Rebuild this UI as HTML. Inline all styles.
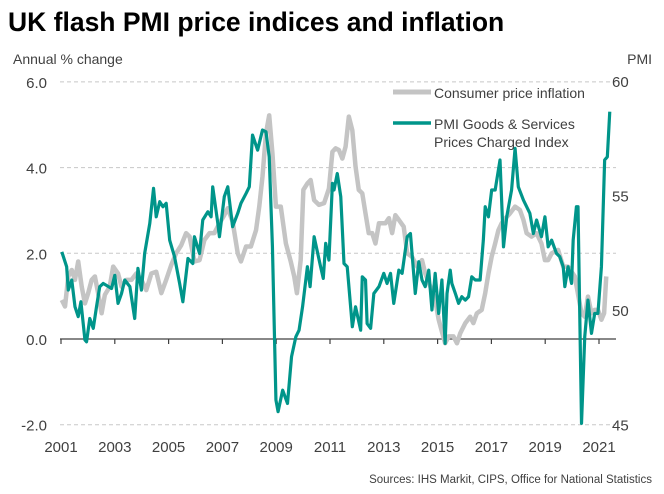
<!DOCTYPE html>
<html><head><meta charset="utf-8"><style>
body{margin:0;background:#fff;}
svg{display:block;font-family:"Liberation Sans",Arial,sans-serif;}
</style></head><body>
<svg id="c" width="664" height="494">
<text x="8" y="31" font-size="26.5" font-weight="bold" fill="#000">UK flash PMI price indices and inflation</text>
<text x="13" y="64" font-size="14" fill="#404040">Annual % change</text>
<text x="652" y="64" font-size="14" fill="#404040" text-anchor="end">PMI</text>
<text x="652" y="483" font-size="11.5" fill="#404040" text-anchor="end">Sources: IHS Markit, CIPS, Office for National Statistics</text>
<g id="grid"></g><g id="axes"></g><g id="series"></g>
<g>
<line x1="393" y1="92" x2="431" y2="92" stroke="#c4c4c4" stroke-width="5"/>
<text x="434" y="98" font-size="14" fill="#404040">Consumer price inflation</text>
<line x1="393" y1="123" x2="431" y2="123" stroke="#00958a" stroke-width="3.5"/>
<text x="434" y="129" font-size="14" fill="#404040">PMI Goods &amp; Services</text>
<text x="434" y="147" font-size="14" fill="#404040">Prices Charged Index</text>
</g>
</svg>
<script>
const leftTicks=[6,4,2,0,-2];
const rightTicks=[60,55,50,45];
const yearTicks=[2001,2003,2005,2007,2009,2011,2013,2015,2017,2019,2021];
const cpiDates=[2001.03,2001.15,2001.27,2001.40,2001.52,2001.64,2001.77,2001.89,2002.01,2002.14,2002.26,2002.38,2002.51,2002.63,2002.81,2002.94,2003.12,2003.25,2003.43,2003.62,2003.80,2003.99,2004.17,2004.36,2004.54,2004.73,2004.91,2005.10,2005.28,2005.47,2005.65,2005.78,2005.96,2006.15,2006.33,2006.52,2006.70,2006.89,2007.07,2007.20,2007.38,2007.57,2007.69,2007.88,2008.06,2008.25,2008.37,2008.49,2008.62,2008.74,2008.86,2008.99,2009.17,2009.36,2009.54,2009.67,2009.77,2009.91,2010.01,2010.16,2010.28,2010.41,2010.59,2010.78,2010.96,2011.09,2011.21,2011.33,2011.46,2011.58,2011.70,2011.83,2011.95,2012.07,2012.20,2012.32,2012.44,2012.57,2012.69,2012.82,2013.06,2013.19,2013.31,2013.43,2013.56,2013.74,2013.87,2014.05,2014.24,2014.42,2014.54,2014.73,2014.91,2015.04,2015.16,2015.28,2015.41,2015.59,2015.72,2015.84,2016.03,2016.21,2016.33,2016.46,2016.64,2016.77,2016.89,2017.01,2017.14,2017.26,2017.38,2017.51,2017.69,2017.88,2018.06,2018.19,2018.31,2018.49,2018.68,2018.86,2018.99,2019.11,2019.24,2019.48,2019.67,2019.85,2020.10,2020.35,2020.47,2020.59,2020.72,2020.84,2020.96,2021.09,2021.19,2021.27];
const cpiValues=[0.91,0.76,1.46,1.61,1.38,1.81,1.22,0.83,1.07,1.38,1.46,1.07,0.60,1.03,1.22,1.69,1.53,1.22,1.38,1.38,1.53,1.38,1.14,1.53,1.57,1.07,1.38,1.73,2.00,2.19,2.47,2.39,1.81,1.84,2.31,2.47,2.47,2.70,2.89,3.05,2.74,2.00,1.81,2.16,2.16,2.54,3.09,3.79,4.80,5.22,4.33,3.09,3.09,2.23,1.81,1.46,1.07,1.84,3.48,3.63,3.71,3.24,3.13,3.17,3.51,4.37,4.45,4.41,4.21,4.49,5.19,4.87,4.02,3.48,3.40,2.93,2.47,2.47,2.23,2.70,2.70,2.82,2.47,2.89,2.78,2.62,2.00,1.92,1.69,1.84,1.53,1.22,0.91,0.45,0.17,-0.10,0.06,0.06,-0.10,0.13,0.37,0.52,0.37,0.60,0.68,1.07,1.53,1.92,2.23,2.54,2.70,2.81,2.93,3.09,3.01,2.78,2.47,2.39,2.47,2.23,1.84,1.84,2.00,2.08,1.69,1.69,1.46,0.60,0.52,0.99,0.60,0.68,0.68,0.45,0.60,1.46];
const pmiDates=[2001.03,2001.21,2001.27,2001.40,2001.52,2001.64,2001.74,2001.89,2001.95,2002.07,2002.20,2002.32,2002.44,2002.57,2002.88,2003.00,2003.12,2003.25,2003.37,2003.56,2003.74,2003.86,2003.99,2004.11,2004.30,2004.44,2004.54,2004.67,2004.79,2004.91,2005.04,2005.22,2005.41,2005.53,2005.72,2005.90,2005.96,2006.15,2006.27,2006.46,2006.58,2006.64,2006.83,2006.89,2007.07,2007.20,2007.38,2007.57,2007.69,2007.88,2008.00,2008.12,2008.31,2008.49,2008.62,2008.74,2008.86,2008.99,2009.07,2009.24,2009.42,2009.57,2009.73,2009.85,2009.98,2010.16,2010.26,2010.41,2010.65,2010.75,2010.84,2010.96,2011.09,2011.15,2011.27,2011.40,2011.52,2011.64,2011.83,2011.95,2012.14,2012.20,2012.32,2012.38,2012.51,2012.63,2012.82,2013.00,2013.12,2013.25,2013.37,2013.56,2013.68,2013.87,2013.99,2014.17,2014.30,2014.42,2014.54,2014.67,2014.79,2014.91,2015.04,2015.16,2015.28,2015.35,2015.47,2015.53,2015.66,2015.78,2015.90,2016.03,2016.15,2016.27,2016.40,2016.58,2016.70,2016.77,2016.89,2017.01,2017.14,2017.32,2017.45,2017.57,2017.75,2017.88,2018.00,2018.19,2018.31,2018.43,2018.56,2018.68,2018.86,2018.99,2019.11,2019.24,2019.42,2019.54,2019.67,2019.73,2019.85,2019.98,2020.04,2020.16,2020.22,2020.35,2020.47,2020.59,2020.72,2020.84,2020.96,2021.09,2021.21,2021.31,2021.40];
const pmiValues=[52.54,51.89,50.87,51.31,50.14,49.71,50.36,48.69,48.61,49.63,49.20,50.14,51.02,51.16,50.94,51.52,50.29,50.72,51.31,51.02,49.63,51.82,50.87,52.47,53.78,55.31,54.07,54.73,54.51,54.66,53.05,52.33,51.16,50.36,52.25,52.03,53.20,52.47,53.93,54.29,54.07,55.38,53.78,53.20,54.95,55.38,53.64,54.22,54.66,55.09,55.38,57.64,56.98,57.86,57.78,56.69,52.76,46.07,45.56,46.50,45.92,47.96,48.83,49.12,50.14,51.89,51.02,53.20,51.89,51.38,52.91,52.18,55.53,55.24,55.96,54.95,52.03,51.89,49.27,50.14,49.12,51.45,51.31,49.41,49.20,50.72,51.02,51.60,51.16,51.60,50.29,51.74,51.60,53.20,53.34,50.72,52.11,51.31,51.02,51.74,50.00,51.60,49.85,51.31,48.54,50.72,51.74,51.16,50.72,50.29,50.58,50.43,50.58,51.45,51.31,51.31,53.05,54.51,54.07,55.24,55.24,56.55,52.76,54.07,55.24,57.06,55.38,54.80,54.51,54.22,53.34,53.93,53.20,54.07,52.76,53.05,52.47,52.33,51.89,51.02,51.89,51.16,53.05,54.51,54.51,45.05,48.83,50.43,48.98,49.85,49.85,51.89,56.55,56.69,58.66];

const NS='http://www.w3.org/2000/svg';
const X0=61,PXY=26.9,x=d=>X0+(d-2001)*PXY;
const yL=v=>339-v*42.85;
const yR=v=>81+(60-v)*22.9;
function mk(tag,attrs,parent){const e=document.createElementNS(NS,tag);for(const k in attrs)e.setAttribute(k,attrs[k]);parent.appendChild(e);return e;}
const grid=document.getElementById('grid'),axes=document.getElementById('axes'),ser=document.getElementById('series');
leftTicks.forEach(v=>{
  if(v!==0){const l=mk('line',{x1:60,x2:616,y1:yL(v),y2:yL(v),stroke:'#c8c8c8','stroke-width':1,'stroke-dasharray':'4,3'},grid);
  
  }
  const t=mk('text',{x:47,y:yL(v)+6,'font-size':15,'text-anchor':'end',fill:'#404040'},axes);t.textContent=v.toFixed(1);
  
  
});
rightTicks.forEach(v=>{
  const t=mk('text',{x:612,y:yR(v)+6,'font-size':15,fill:'#404040'},axes);t.textContent=v;
  
  
});
const ax=mk('line',{x1:60,x2:616,y1:yL(0),y2:yL(0),stroke:'#404040','stroke-width':1.2},axes);


yearTicks.forEach(yr=>{
  const tk=mk('line',{x1:x(yr),x2:x(yr),y1:yL(0),y2:yL(0)+5,stroke:'#404040','stroke-width':1.2},axes);
  
  
  const t=mk('text',{x:x(yr),y:452,'font-size':15,'text-anchor':'middle',fill:'#404040'},axes);t.textContent=yr;
  
  
});
const cpiPath=mk('polyline',{points:cpiDates.map((d,i)=>x(d)+','+yL(cpiValues[i])).join(' '),fill:'none',stroke:'#c4c4c4','stroke-width':4.5,'stroke-linejoin':'round'},ser);


const pmiPath=mk('polyline',{points:pmiDates.map((d,i)=>x(d)+','+yR(pmiValues[i])).join(' '),fill:'none',stroke:'#00958a','stroke-width':3.2,'stroke-linejoin':'round'},ser);


</script>
</body></html>
